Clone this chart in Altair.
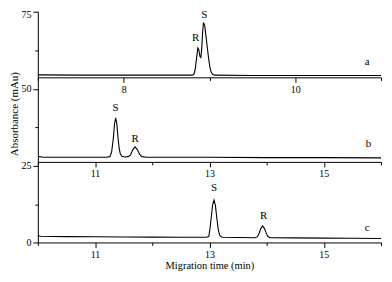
import altair as alt
import pandas as pd

FONT = "Liberation Serif"

# ---- trace a (top panel) ----
a_time = [7.0, 7.5, 8.0, 8.5, 8.80, 8.82, 8.835, 8.85, 8.865, 8.875, 8.89, 8.90, 8.91, 8.92,
          8.93, 8.945, 8.96, 8.975, 8.99, 9.005, 9.02, 9.04, 9.06, 9.5, 10.0, 10.5, 11.0]
a_abs = [54.6, 54.5, 54.5, 54.5, 54.5, 54.8, 56.5, 60.0, 63.3, 62.8, 60.5, 60.2, 63.0, 68.0,
         71.5, 70.5, 67.0, 63.5, 60.0, 57.2, 55.5, 54.7, 54.5, 54.4, 54.4, 54.4, 54.4]
a_lab = ["R", "S", "a"]
a_lab_x = [8.84, 8.94, 10.84]
a_lab_y = [66.5, 74.0, 58.6]

# ---- trace b (middle panel) ----
b_time = [10.0, 10.1, 10.5, 11.0, 11.2, 11.26, 11.29, 11.32, 11.34, 11.36, 11.38, 11.40, 11.42,
          11.44, 11.47, 11.52, 11.58, 11.62, 11.66, 11.70, 11.74, 11.78, 11.82, 11.9, 12.5, 13.0,
          14.0, 15.0, 16.0]
b_abs = [28.1, 27.8, 27.8, 27.8, 27.8, 28.0, 29.5, 34.0, 38.5, 40.6, 38.8, 34.5, 31.0,
         29.0, 28.1, 27.9, 28.0, 28.6, 30.2, 31.2, 30.3, 28.7, 28.0, 27.8, 27.8, 27.8,
         27.7, 27.7, 27.6]
b_lab = ["S", "R", "b"]
b_lab_x = [11.36, 11.70, 15.78]
b_lab_y = [43.8, 33.8, 32.1]

# ---- trace c (bottom panel) ----
c_time = [10.0, 10.05, 10.5, 11.0, 11.5, 12.0, 12.5, 12.95, 12.99, 13.01, 13.03, 13.055, 13.08,
          13.105, 13.13, 13.155, 13.18, 13.22, 13.5, 13.8, 13.84, 13.87, 13.90, 13.93, 13.96,
          13.99, 14.02, 14.06, 14.5, 15.0, 15.5, 16.0]
c_abs = [2.2, 2.0, 1.9, 1.85, 1.8, 1.75, 1.7, 1.7, 2.0, 4.5, 7.8, 12.2, 13.8,
         12.0, 7.8, 4.2, 2.3, 1.7, 1.6, 1.55, 1.9, 3.0, 4.6, 5.4, 4.6,
         3.2, 2.0, 1.55, 1.5, 1.4, 1.35, 1.3]
c_lab = ["S", "R", "c"]
c_lab_x = [13.08, 13.95, 15.76]
c_lab_y = [17.7, 8.5, 4.7]

# axis ticks
a_xticks = [7, 8, 9, 10, 11]
bc_xticks = [10, 11, 12, 13, 14, 15, 16]
a_yticks = [62.5, 75]
b_yticks = [37.5, 50]
c_yticks = [0, 12.5, 25]

W = 345


def panel(time, absb, lab, lx, ly, xdom, ydom, h, xticks, xmajor, yticks,
          ytitle=None, xtitle=None):
    df = pd.DataFrame({"t": time, "A": absb})
    ldf = pd.DataFrame({"txt": lab, "t": lx, "A": ly})
    ymajor = "datum.value % 25 == 0"
    xaxis = alt.Axis(values=xticks, format="d", grid=False, title=xtitle,
                     labelExpr=f"({xmajor}) ? datum.label : ''",
                     tickSize={"condition": {"test": xmajor, "value": 5}, "value": 3},
                     titlePadding=1, titleFontSize=10.5)
    yaxis = alt.Axis(values=yticks, format="d", grid=False, title=ytitle,
                     labelExpr=f"({ymajor}) ? datum.label : ''",
                     tickSize={"condition": {"test": ymajor, "value": 5}, "value": 3},
                     labelOffset={"condition": {"test": "datum.value == 75", "value": 3},
                                  "value": 0},
                     titlePadding=1, titleY=h / 2 - 6)
    xs = alt.Scale(domain=xdom, nice=False, zero=False)
    ys = alt.Scale(domain=ydom, nice=False, zero=False)
    line = alt.Chart(df).mark_line(color="black", strokeWidth=1.1).encode(
        x=alt.X("t:Q", scale=xs, axis=xaxis),
        y=alt.Y("A:Q", scale=ys, axis=yaxis),
    )
    text = alt.Chart(ldf).mark_text(font=FONT, fontSize=11, color="black",
                                    baseline="middle").encode(
        x=alt.X("t:Q", scale=xs),
        y=alt.Y("A:Q", scale=ys),
        text="txt:N",
    )
    return alt.layer(line, text).properties(width=W, height=h)


pa = panel(a_time, a_abs, a_lab, a_lab_x, a_lab_y, [7, 11], [53.8, 75], 66,
           a_xticks, "datum.value % 2 == 0", a_yticks)
pb = panel(b_time, b_abs, b_lab, b_lab_x, b_lab_y, [10, 16], [26.3, 53.8], 85,
           bc_xticks, "datum.value % 2 == 1", b_yticks, ytitle="Absorbance (mAu)")
pc = panel(c_time, c_abs, c_lab, c_lab_x, c_lab_y, [10, 16], [0, 26.3], 81,
           bc_xticks, "datum.value % 2 == 1", c_yticks, xtitle="Migration time (min)")

chart = alt.vconcat(pa, pb, pc, spacing=0, bounds="flush").properties(
    padding={"left": 0, "top": 0, "right": 0, "bottom": 0}
).configure_view(stroke=None).configure_axis(
    domainColor="black", tickColor="black", labelColor="black", titleColor="black",
    labelFont=FONT, titleFont=FONT, labelFontSize=10, titleFontSize=11,
    titleFontWeight="normal", labelPadding=2, domainWidth=1, tickWidth=1,
)

chart.save("out.html", embed_options={"renderer": "svg", "actions": False})
